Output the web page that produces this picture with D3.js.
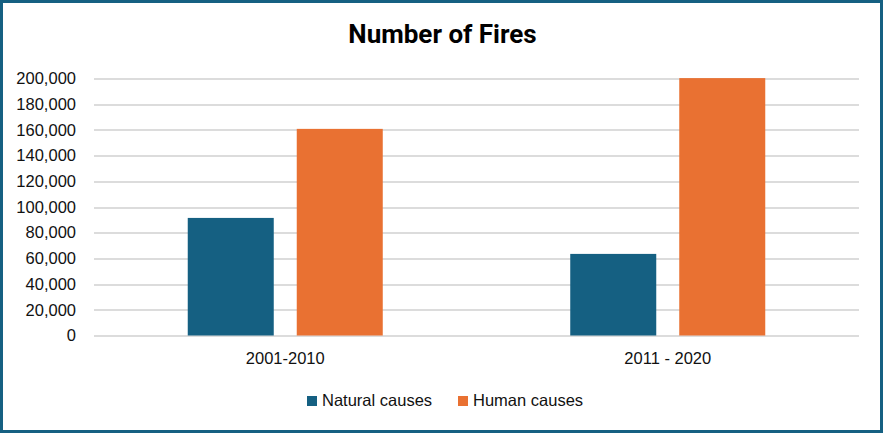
<!DOCTYPE html>
<html>
<head>
<meta charset="utf-8">
<script src="https://cdn.jsdelivr.net/npm/d3@7"></script>
<style>
  html, body { margin: 0; padding: 0; background: #fff; }
  svg { display: block; }
</style>
</head>
<body>
<script>
var w = 883;
var h = 433;

// chart data
var categories = ["2001-2010", "2011 - 2020"];
var seriesNames = ["Natural causes", "Human causes"];
var naturalCauses = [91500, 63500];
var humanCauses = [160800, 200300];
var yTicks = [0, 20000, 40000, 60000, 80000, 100000, 120000, 140000, 160000, 180000, 200000];

var colors = ["#156082", "#E97132"];
var font = "'Liberation Sans', Arial, sans-serif";

var margin = {top: 78.5, right: 24, bottom: 97.5, left: 94};
var plotW = w - margin.left - margin.right;
var plotH = h - margin.top - margin.bottom;

var svg = d3.select("body")
  .append("svg")
  .attr("width", w)
  .attr("height", h);

svg.append("rect")
  .attr("width", w)
  .attr("height", h)
  .attr("fill", "#fff");

var x0 = d3.scaleBand()
  .domain(categories)
  .range([0, plotW])
  .paddingInner(0)
  .paddingOuter(0);

var x1 = d3.scaleBand()
  .domain(seriesNames)
  .range([0, x0.bandwidth()])
  .paddingInner(0.211)
  .paddingOuter(0.86);

var y = d3.scaleLinear()
  .domain([0, 200000])
  .range([plotH, 0]);

var g = svg.append("g")
  .attr("transform", "translate(" + margin.left + "," + margin.top + ")");

// gridlines
g.selectAll("line.grid")
  .data(yTicks)
  .enter()
  .append("line")
  .attr("class", "grid")
  .attr("x1", 0)
  .attr("x2", plotW)
  .attr("y1", function(d) { return Math.round(y(d)) + 0.5; })
  .attr("y2", function(d) { return Math.round(y(d)) + 0.5; })
  .attr("stroke", "#d0d0d0")
  .attr("stroke-width", 1.3);

// y axis labels
var yAxis = d3.axisLeft(y)
  .tickValues(yTicks)
  .tickSize(0)
  .tickPadding(18)
  .tickFormat(d3.format(","));

var ya = g.append("g").call(yAxis);
ya.select(".domain").remove();
ya.selectAll("text")
  .attr("font-family", font)
  .attr("font-size", "16.5px")
  .attr("fill", "#111");

// bars
var rows = categories.map(function(c, i) {
  return {cat: c, vals: [naturalCauses[i], humanCauses[i]]};
});

var groups = g.selectAll("g.cat")
  .data(rows)
  .enter()
  .append("g")
  .attr("class", "cat")
  .attr("transform", function(d) { return "translate(" + x0(d.cat) + ",0)"; });

groups.selectAll("rect")
  .data(function(d) {
    return d.vals.map(function(v, j) { return {name: seriesNames[j], v: v, j: j}; });
  })
  .enter()
  .append("rect")
  .attr("x", function(d) { return x1(d.name); })
  .attr("y", function(d) { return y(d.v); })
  .attr("width", x1.bandwidth())
  .attr("height", function(d) { return plotH - y(d.v); })
  .attr("fill", function(d) { return colors[d.j]; });

// x axis labels
var xAxis = d3.axisBottom(x0)
  .tickSize(0)
  .tickPadding(17);

var xa = g.append("g")
  .attr("transform", "translate(0," + plotH + ")")
  .call(xAxis);
xa.select(".domain").remove();
xa.selectAll("text")
  .attr("font-family", font)
  .attr("font-size", "16.5px")
  .attr("fill", "#111");

// title
svg.append("text")
  .attr("x", w / 2 + 1)
  .attr("y", 43)
  .attr("text-anchor", "middle")
  .attr("font-family", "Roboto, sans-serif")
  .attr("font-weight", "bold")
  .attr("font-size", "26px")
  .attr("fill", "#000")
  .text("Number of Fires");

// legend
var legendX = [307, 458];
var legend = svg.selectAll("g.legend")
  .data(seriesNames)
  .enter()
  .append("g")
  .attr("class", "legend")
  .attr("transform", function(d, i) { return "translate(" + legendX[i] + ",396)"; });

legend.append("rect")
  .attr("width", 10)
  .attr("height", 10)
  .attr("fill", function(d, i) { return colors[i]; });

legend.append("text")
  .attr("x", 15)
  .attr("y", 10)
  .attr("font-family", font)
  .attr("font-size", "16.5px")
  .attr("fill", "#111")
  .text(function(d) { return d; });

// outer border
svg.append("rect")
  .attr("x", 1.5)
  .attr("y", 1.5)
  .attr("width", w - 3)
  .attr("height", h - 3)
  .attr("fill", "none")
  .attr("stroke", "#156082")
  .attr("stroke-width", 3);
</script>
</body>
</html>
